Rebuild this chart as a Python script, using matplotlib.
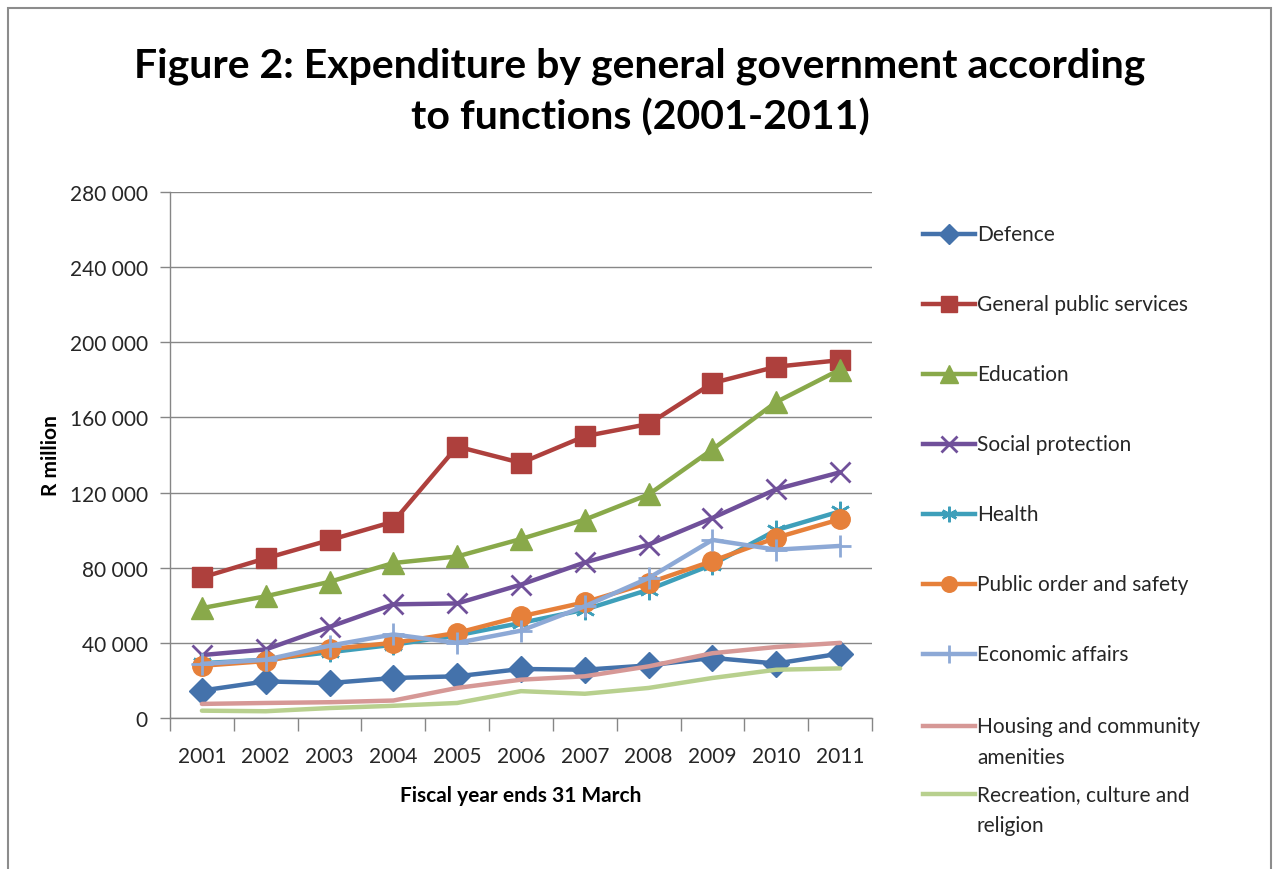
import matplotlib
matplotlib.use("Agg")
import matplotlib.pyplot as plt
from matplotlib.lines import Line2D
from matplotlib.patches import Rectangle
from matplotlib.ticker import FuncFormatter, FixedLocator, NullFormatter

plt.rcParams['font.family'] = ['Lato', 'DejaVu Sans']

# Fiscal years (ending 31 March)
years = ['2001', '2002', '2003', '2004', '2005', '2006',
         '2007', '2008', '2009', '2010', '2011']

# Expenditure by function, R million
defence = [14600, 19500, 18600, 21300, 22200, 26100, 25700, 28000, 32000, 29000, 34300]
general_public = [74800, 85000, 94700, 104500, 144500, 135800, 150000, 156500, 178300, 187000, 190500]
education = [58500, 64800, 72500, 82500, 86000, 95300, 105600, 119000, 143000, 168200, 185500]
social_protection = [33500, 36500, 48500, 60500, 61000, 71000, 82800, 92300, 106500, 121800, 130800]
health = [29200, 31000, 35000, 39000, 44000, 50600, 57700, 68300, 81700, 100000, 110000]
public_order = [27800, 30300, 36700, 40000, 45300, 54100, 61600, 71900, 83600, 96000, 105800]
economic_affairs = [28800, 31000, 38500, 44500, 40000, 46500, 59500, 74500, 94800, 89600, 91600]
housing = [7500, 8000, 8400, 9300, 16000, 20400, 22200, 27500, 34500, 37800, 40000]
recreation = [3900, 3600, 5300, 6500, 8000, 14300, 12900, 16000, 21300, 25700, 26400]

series_names = ['Defence', 'General public services', 'Education', 'Social protection',
                'Health', 'Public order and safety', 'Economic affairs',
                'Housing and community\namenities', 'Recreation, culture and\nreligion']
series_values = [defence, general_public, education, social_protection, health,
                 public_order, economic_affairs, housing, recreation]

styles = [
    dict(color='#4472AB', marker='D', markersize=13),
    dict(color='#AE403D', marker='s', markersize=14),
    dict(color='#89A94A', marker='^', markersize=16),
    dict(color='#70509A', marker='x', markersize=14, markeredgewidth=2),
    dict(color='#3E9FBA', marker=(6, 2, 0), markersize=14, markeredgewidth=1.8),
    dict(color='#E6803A', marker='o', markersize=14),
    dict(color='#8DA9D6', marker='+', markersize=16, markeredgewidth=2),
    dict(color='#D69896', marker=None),
    dict(color='#B8D08E', marker=None),
]

W, H = 1274, 870
fig = plt.figure(figsize=(W / 100, H / 100), dpi=100)
fig.patch.set_facecolor('white')

def px(x, y):
    return x / W, 1 - y / H

# Plot area
left, right, top, bottom = 170, 872, 193, 719
ax = fig.add_axes([left / W, 1 - bottom / H, (right - left) / W, (bottom - top) / H])

xpos = list(range(len(years)))
lines = []
for name, vals, st in zip(series_names, series_values, styles):
    ln, = ax.plot(xpos, vals, linewidth=3.2, solid_joinstyle='round',
                  solid_capstyle='round', label=name, **st)
    lines.append(ln)

ax.set_xlim(-0.5, len(years) - 0.5)
ax.set_ylim(0, 280000)
ax.set_yticks(range(0, 280001, 40000))
ax.yaxis.set_major_formatter(FuncFormatter(lambda v, p: f"{int(v):,}".replace(',', ' ')))

# Category axis: boundary ticks, labels centred on categories
ax.xaxis.set_major_locator(FixedLocator([i - 0.5 for i in range(len(years) + 1)]))
ax.xaxis.set_major_formatter(NullFormatter())
ax.xaxis.set_minor_locator(FixedLocator(xpos))
ax.set_xticklabels(years, minor=True)
ax.tick_params(axis='x', which='major', length=9, width=1, color='#868686', direction='out')
ax.tick_params(axis='x', which='minor', length=0, pad=20, labelsize=15, labelcolor='#262626')
ax.tick_params(axis='y', length=7, width=1, color='#868686', direction='out',
               pad=9, labelsize=15, labelcolor='#262626')

ax.grid(axis='y', color='#878787', linewidth=1)
ax.set_axisbelow(True)
for s in ('top', 'right'):
    ax.spines[s].set_visible(False)
for s in ('left', 'bottom'):
    ax.spines[s].set_color('#868686')
    ax.spines[s].set_linewidth(1)

ax.set_xlabel('Fiscal year ends 31 March', fontsize=15, fontweight='bold', labelpad=14)
ax.set_ylabel('R million', fontsize=15, fontweight='bold', labelpad=6)

# Title
fig.text(640 / W, 1 - 92 / H,
         'Figure 2: Expenditure by general government according\nto functions (2001-2011)',
         ha='center', va='center', fontsize=29.5, fontweight='bold', linespacing=1.42)

# Legend drawn alongside the plot area
leg_y = [235, 305, 375, 445, 515, 585, 655, 727, 795]
for ln, name, y in zip(lines, series_names, leg_y):
    x0, y0 = px(923, y)
    x1, _ = px(975, y)
    h = Line2D([x0, (x0 + x1) / 2, x1], [y0, y0, y0], transform=fig.transFigure,
               color=ln.get_color(), linewidth=3.2, marker=ln.get_marker(),
               markersize=ln.get_markersize() * 0.8, markevery=[1],
               markeredgewidth=ln.get_markeredgewidth())
    fig.add_artist(h)
    tx, ty = px(977, y - 10)
    fig.text(tx, ty, name, ha='left', va='top', fontsize=15, color='#262626',
             linespacing=1.68)

# Outer chart border
fig.add_artist(Rectangle(px(7.5, 880), (1270.5 - 7.5) / W, (880 - 8.5) / H,
                         transform=fig.transFigure, fill=False,
                         edgecolor='#8C8C8C', linewidth=1.5))

fig.savefig('out.png', dpi=100, facecolor='white')
